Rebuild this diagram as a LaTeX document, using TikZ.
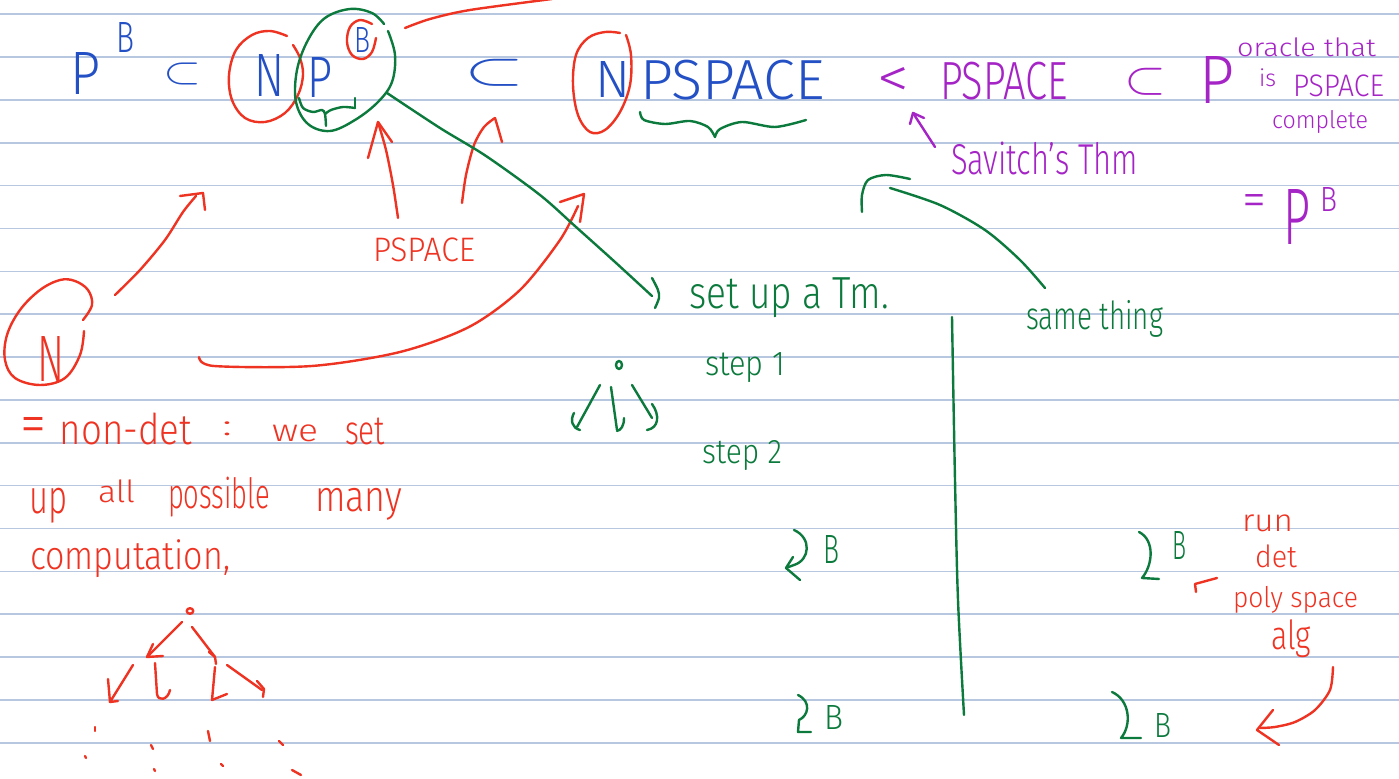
\documentclass[tikz,border=0pt]{standalone}
\usepackage{fontspec}
\IfFontExistsTF{Fira Sans Light}{\setmainfont{Fira Sans Light}}{\setmainfont{Fira Sans}}
\usepackage{graphicx}
\newdimen\pxu \pxu=0.5pt
\newcommand\hw[3]{\resizebox*{#1\pxu}{#2\pxu}{#3}}
\definecolor{inkblue}{HTML}{2350C4}
\definecolor{inkred}{HTML}{EE3322}
\definecolor{inkgreen}{HTML}{0B7A3C}
\definecolor{inkpurple}{HTML}{A524C6}
\definecolor{rulecol}{HTML}{B6C7DF}
\tikzset{
  pen/.style={line width=1.2pt, line cap=round, line join=round},
  bl/.style={pen, inkblue},
  rd/.style={pen, inkred},
  gr/.style={pen, inkgreen},
  pu/.style={pen, inkpurple},
  txt/.style={inner sep=0pt, outer sep=0pt, anchor=north west},
  rulestyle/.style={rulecol, line width=0.8pt}
}
\begin{document}
\begin{tikzpicture}[x=0.5pt,y=-0.5pt]
\useasboundingbox (0,0) rectangle (1399,779);
\fill[white] (0,0) rectangle (1399,779);
\foreach \k in {0,...,17} \draw[rulestyle] (0,14.3+42.85*\k) -- (1399,14.3+42.85*\k);

% ---------- top blue formula ----------
\node[txt, text=inkblue] (p1) at (70,53) {\hw{30}{42}{P}};
\node[txt, text=inkblue] (b1) at (116,23) {\hw{18}{30}{B}};
\node[txt, text=inkblue] (sub1) at (163,63) {\hw{38}{22}{$\subset$}};
\node[txt, text=inkblue] (n1) at (254,55) {\hw{30}{42}{N}};
\node[txt, text=inkblue] (p2) at (307,58) {\hw{25}{40}{P}};
\node[txt, text=inkblue] (b2) at (354,28) {\hw{16}{25}{B}};
\node[txt, text=inkblue] (sub2) at (464,59) {\hw{60}{27}{$\subset$}};
\node[txt, text=inkblue] (n2) at (595,62) {\hw{35}{36}{N}};
\node[txt, text=inkblue] (pspace1) at (640,60) {\hw{185}{40}{PSPACE}};

% red ellipse around N of NP
\draw[rd] plot[smooth,tension=0.6] coordinates {(293,45) (300,58) (303,75) (298,95) (285,113) (265,122) (245,118) (232,100) (229,75) (236,50) (252,35) (270,31) (287,36)};
% green ellipse around P^B
\draw[gr] plot[smooth,tension=0.6] coordinates {(388,31) (395,55) (392,82) (378,102) (355,120) (330,131) (308,124) (296,102) (297,70) (308,40) (325,18) (350,9) (372,13) (384,24)};
% red circle around B
\draw[rd] plot[smooth,tension=0.6] coordinates {(372,24) (360,20) (350,27) (347,42) (352,55) (363,59) (372,52) (376,38)};
% green brace under P
\draw[gr] plot[smooth] coordinates {(299,98) (303,108) (313,112) (322,110) (325,114) (326,126)};
\draw[gr] plot[smooth] coordinates {(325,114) (331,110) (343,107) (355,108)};
\draw[gr] (355,108) -- (355,98);
% red line to top
\draw[rd] plot[smooth] coordinates {(405,28) (430,19) (470,10) (552,-1)};
% red ellipse around N of NPSPACE
\draw[rd] plot[smooth,tension=0.6] coordinates {(626,35) (631,55) (630,85) (620,112) (605,130) (590,132) (578,115) (573,85) (576,55) (588,38) (605,32) (620,33)};
% green brace under PSPACE
\draw[gr] plot[smooth] coordinates {(640,112) (644,120) (665,124) (690,121) (708,127) (715,137)};
\draw[gr] plot[smooth] coordinates {(715,137) (720,129) (742,122) (775,127) (806,120)};

% ---------- purple ----------
\node[txt, text=inkpurple] (lt) at (877,68) {\hw{32}{30}{<}};
\node[txt, text=inkpurple] (pspace2) at (940,62) {\hw{128}{38}{PSPACE}};
\node[txt, text=inkpurple] (sub3) at (1124,68) {\hw{42}{27}{$\subset$}};
\node[txt, text=inkpurple] (p3) at (1199,57) {\hw{35}{47}{P}};
\node[txt, text=inkpurple] (oracle) at (1237,38) {\hw{139}{19}{oracle that}};
\node[txt, text=inkpurple] (is) at (1259,69) {\hw{17}{18}{is}};
\node[txt, text=inkpurple] (pspace3) at (1293,75) {\hw{91}{22}{PSPACE}};
\node[txt, text=inkpurple] (complete) at (1272,110) {\hw{96}{23}{complete}};
\node[txt, text=inkpurple] (savitch) at (951,142) {\hw{187}{33}{Savitch's Thm}};
\coordinate (savtip) at (913,113);
\draw[pu] (935,147) -- (savtip);
\draw[pu] (910,124) -- (savtip) -- (924,118);
\node[txt, text=inkpurple] (eq2) at (1242,195) {\hw{24}{22}{=}};
\node[txt, text=inkpurple] (p4) at (1283,190) {\hw{27}{55}{P}};
\node[txt, text=inkpurple] (b4) at (1320,188) {\hw{17}{24}{B}};

% ---------- red PSPACE arrows ----------
\node[txt, text=inkred] (pspace4) at (373,238) {\hw{102}{24}{PSPACE}};
\draw[rd] plot[smooth] coordinates {(398,218) (393,185) (386,150) (378,122)};
\draw[rd] (368,158) -- (378,122) -- (392,142);
\draw[rd] plot[smooth] coordinates {(462,203) (466,175) (474,145) (484,127) (495,118)};
\draw[rd] plot[smooth] coordinates {(495,118) (498,128) (502,142)};

% ---------- red circled N ----------
\draw[rd] plot[smooth,tension=0.6] coordinates {(83,320) (92,305) (88,290) (75,281) (60,280) (40,290) (20,310) (7,335) (5,360) (15,378) (40,385) (65,378) (80,355) (84,331)};
\node[txt, text=inkred] (n3) at (38,337) {\hw{27}{45}{N}};
\draw[rd] plot[smooth] coordinates {(115,295) (140,270) (165,240) (183,212) (196,196)};
\draw[rd] (180,196) -- (203,193) -- (205,210);
\draw[rd] plot[smooth] coordinates {(199,357) (214,366) (312,366) (400,352) (469,327) (520,290) (560,240) (578,206)};
\draw[rd] (560,202) -- (584,194) -- (580,222);

% ---------- red text left ----------
\node[txt, text=inkred] (eq1) at (20,418) {\hw{26}{26}{=}};
\node[txt, text=inkred] (nondet) at (60,413) {\hw{132}{32}{non-det}};
\node[txt, text=inkred] (colon) at (222,422) {\hw{10}{14}{:}};
\node[txt, text=inkred] (we) at (272,425) {\hw{46}{17}{we}};
\node[txt, text=inkred] (set) at (345,418) {\hw{40}{27}{set}};
\node[txt, text=inkred] (up) at (30,488) {\hw{38}{35}{up}};
\node[txt, text=inkred] (all) at (98,480) {\hw{37}{23}{all}};
\node[txt, text=inkred] (possible) at (168,477) {\hw{102}{40}{possible}};
\node[txt, text=inkred] (many) at (315,488) {\hw{87}{32}{many}};
\node[txt, text=inkred] (computation) at (30,540) {\hw{200}{38}{computation,}};

% red tree
\draw[rd] (190,611) ellipse [x radius=1.6pt, y radius=1.4pt];
\draw[rd] (182,622) -- (147,657) -- (163,656);
\draw[rd] (147,657) -- (153,644);
\draw[rd] (192,627) -- (215,657) -- (216,664);
\draw[rd] (209,652) -- (215,657);
\draw[rd] (133,665) -- (110,702) -- (118,701);
\draw[rd] (108,679) -- (110,702);
\draw[rd] (155,663) -- (157,694) .. controls (158,702) and (168,700) .. (170,690);
\draw[rd] (215,667) -- (212,700) -- (227,694);
\draw[rd] (227,665) -- (262,690);
\draw[rd] (257,681) -- (264,689) -- (263,697);
\draw[rd] (95,727) -- (95,731);
\draw[rd] (85,756) -- (86,758);
\draw[rd] (151,745) -- (153,749);
\draw[rd] (154,769) -- (155,771);
\draw[rd] (208,731) -- (210,741);
\draw[rd] (221,764) -- (223,766);
\draw[rd] (279,741) -- (283,745);
\draw[rd] (292,770) -- (301,775);

% ---------- green ----------
\draw[gr] plot[smooth] coordinates {(387,93) (440,128) (486,156) (540,195) (576,227) (615,262) (652,296)};
\draw[gr] plot[smooth] coordinates {(652,278) (658,290) (659,298) (655,308)};
\node[txt, text=inkgreen] (setup) at (689,278) {\hw{200}{40}{set up a Tm.}};
\node[txt, text=inkgreen] (same) at (1026,300) {\hw{137}{37}{same thing}};
\draw[gr] plot[smooth] coordinates {(1045,288) (1020,260) (985,230) (940,205) (890,188)};
\draw[gr] plot[smooth] coordinates {(910,179) (886,175) (868,180) (862,195) (862,212)};
\draw[gr] plot[smooth] coordinates {(952,317) (955,480) (958,600) (964,715)};
\node[txt, text=inkgreen] (step1) at (705,353) {\hw{80}{30}{step 1}};
\node[txt, text=inkgreen] (step2) at (702,440) {\hw{80}{30}{step 2}};
% green tree
\draw[gr] (619,365) ellipse [x radius=1.5pt, y radius=2pt];
\draw[gr] (600,385) -- (577,427);
\draw[gr] (574,413) .. controls (570,420) and (572,428) .. (580,430);
\draw[gr] (611,387) -- (617,430);
\draw[gr] (624,418) .. controls (624,426) and (621,430) .. (617,431);
\draw[gr] (632,385) -- (652,418);
\draw[gr] (652,404) .. controls (660,415) and (659,428) .. (647,430);
% green hooks with B
\draw[gr] (794,530) .. controls (812,538) and (810,560) .. (794,565) -- (786,568);
\draw[gr] (793,557) -- (786,568) -- (800,580);
\node[txt, text=inkgreen] (gb1) at (823,536) {\hw{16}{28}{B}};
\draw[gr] (798,695) .. controls (812,702) and (808,716) .. (799,720) -- (798,732) -- (811,732);
\node[txt, text=inkgreen] (gb2) at (824,706) {\hw{19}{24}{B}};
\draw[gr] (1139,532) .. controls (1155,540) and (1153,565) .. (1142,578) -- (1159,579);
\node[txt, text=inkgreen] (gb3) at (1172,532) {\hw{14}{28}{B}};
\draw[gr] (1112,692) .. controls (1130,700) and (1132,725) .. (1121,738) -- (1141,738);
\node[txt, text=inkgreen] (gb4) at (1154,714) {\hw{17}{24}{B}};

% ---------- red bottom right ----------
\node[txt, text=inkred] (run) at (1242,515) {\hw{51}{17}{run}};
\node[txt, text=inkred] (det) at (1255,545) {\hw{42}{23}{det}};
\node[txt, text=inkred] (poly) at (1233,586) {\hw{125}{27}{poly space}};
\node[txt, text=inkred] (alg) at (1271,620) {\hw{40}{38}{alg}};
\draw[rd] (1196,592) -- (1195,584) -- (1217,578);
\draw[rd] plot[smooth] coordinates {(1333,667) (1330,690) (1315,710) (1295,722) (1275,727) (1260,728)};
\draw[rd] (1273,710) -- (1257,730) -- (1279,745);
\end{tikzpicture}
\end{document}
